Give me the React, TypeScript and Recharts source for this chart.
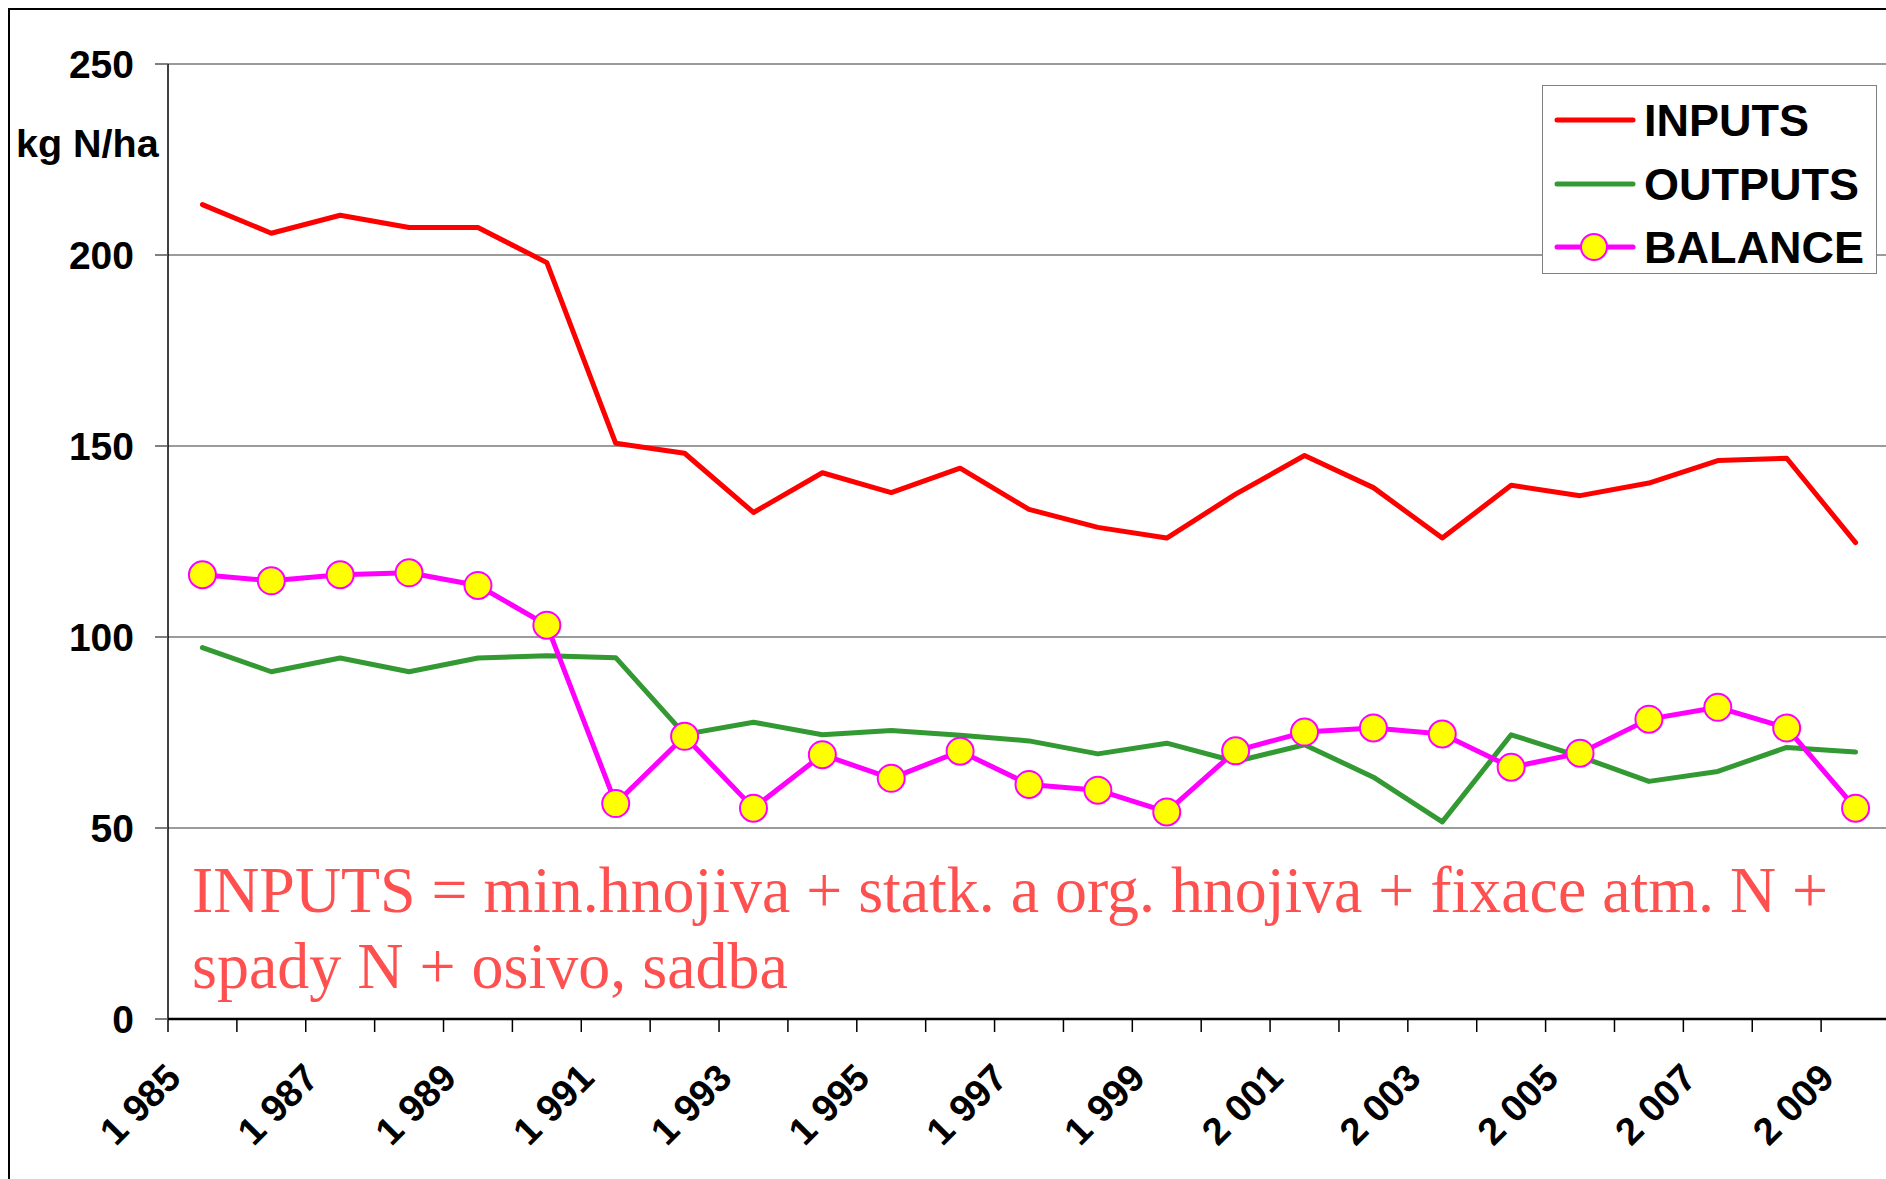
import React from "react";
import {
  LineChart,
  Line,
  XAxis,
  YAxis,
  CartesianGrid,
  Legend,
  Customized,
} from "recharts";

const years = [
  1985, 1986, 1987, 1988, 1989, 1990, 1991, 1992, 1993, 1994, 1995, 1996, 1997,
  1998, 1999, 2000, 2001, 2002, 2003, 2004, 2005, 2006, 2007, 2008, 2009,
];

const inputs = [
  213.2, 205.7, 210.4, 207.2, 207.2, 198.0, 150.7, 148.1, 132.6, 143.0, 137.8,
  144.2, 133.4, 128.7, 125.9, 137.4, 147.5, 139.1, 125.9, 139.7, 137.0, 140.3,
  146.2, 146.8, 124.7,
];

const outputs = [
  97.2, 90.9, 94.5, 90.9, 94.5, 95.1, 94.6, 74.5, 77.7, 74.4, 75.5, 74.3, 72.8,
  69.4, 72.2, 67.4, 71.8, 63.3, 51.6, 74.4, 68.7, 62.2, 64.8, 71.1, 69.9,
];

const balance = [
  116.3, 114.7, 116.3, 116.8, 113.5, 103.1, 56.4, 74.0, 55.2, 69.2, 63.0, 70.1,
  61.4, 59.9, 54.2, 70.2, 75.1, 76.2, 74.6, 65.9, 69.6, 78.5, 81.6, 76.2, 55.2,
];

const xTickLabels = [
  "1 985", "1 987", "1 989", "1 991", "1 993", "1 995", "1 997",
  "1 999", "2 001", "2 003", "2 005", "2 007", "2 009",
];

const yTicks = [0, 50, 100, 150, 200, 250];

const seriesNames = ["INPUTS", "OUTPUTS", "BALANCE"];
const yUnit = "kg N/ha";
const noteLines = [
  "INPUTS = min.hnojiva + statk. a org. hnojiva + fixace atm. N +",
  "spady N + osivo, sadba",
];

const data = years.map((y, i) => ({
  year: y,
  INPUTS: inputs[i],
  OUTPUTS: outputs[i],
  BALANCE: balance[i],
}));

// category boundaries (Excel-style ticks between categories)
const boundaries = [...years.map((y) => y - 0.5), years[years.length - 1] + 0.5];

const SANS = '"Liberation Sans", Arial, Helvetica, sans-serif';
const SERIF = '"Liberation Serif", "Times New Roman", Times, serif';

const COLORS = {
  INPUTS: "#FF0000",
  OUTPUTS: "#339933",
  BALANCE: "#FF00FF",
};

const XTick = (props: any) => {
  const { x, y, payload } = props;
  const startYear = Math.round(payload.value + 0.5);
  const idx = startYear - years[0];
  if (idx < 0 || idx >= years.length || idx % 2 !== 0) return null;
  const label = xTickLabels[idx / 2];
  const ax = x + 15;
  const ay = y + 48;
  return (
    <text
      x={ax}
      y={ay}
      transform={`rotate(-45, ${ax}, ${ay})`}
      textAnchor="end"
      fontFamily={SANS}
      fontWeight="bold"
      fontSize={38}
      fill="#000"
    >
      {label}
    </text>
  );
};

const YTick = (props: any) => {
  const { x, y, payload } = props;
  return (
    <text
      x={x}
      y={y}
      dy="0.36em"
      textAnchor="end"
      fontFamily={SANS}
      fontWeight="bold"
      fontSize={39}
      fill="#000"
    >
      {payload.value}
    </text>
  );
};

const LegendContent = () => {
  const rows = seriesNames;
  return (
    <div
      style={{
        width: 335,
        height: 189,
        boxSizing: "border-box",
        border: "1.5px solid #808080",
        background: "#fff",
        position: "relative",
      }}
    >
      {rows.map((name, i) => {
        const cy = 34 + i * 63.5;
        return (
          <div
            key={name}
            style={{
              position: "absolute",
              left: 0,
              top: cy - 30,
              height: 60,
              width: 335,
            }}
          >
            <svg
              width={100}
              height={60}
              style={{ position: "absolute", left: 0, top: 0 }}
            >
              <line
                x1={14}
                y1={30}
                x2={90}
                y2={30}
                stroke={(COLORS as any)[name]}
                strokeWidth={5}
                strokeLinecap="round"
              />
              {name === "BALANCE" && (
                <circle
                  cx={51}
                  cy={30}
                  r={13}
                  fill="#FFFF00"
                  stroke="#FF00FF"
                  strokeWidth={2}
                />
              )}
            </svg>
            <span
              style={{
                position: "absolute",
                left: 101,
                top: 1,
                lineHeight: "60px",
                fontFamily: SANS,
                fontWeight: "bold",
                fontSize: 45,
                color: "#000",
                whiteSpace: "nowrap",
              }}
            >
              {name}
            </span>
          </div>
        );
      })}
    </div>
  );
};

const Annotations = () => (
  <g>
    <text
      x={16}
      y={157}
      fontFamily={SANS}
      fontWeight="bold"
      fontSize={39.5}
      fill="#000"
    >
      {yUnit}
    </text>
    <text
      x={192}
      y={912}
      fontFamily={SERIF}
      fontSize={65}
      fill="#FF5050"
      textLength={1636}
      lengthAdjust="spacingAndGlyphs"
    >
      {noteLines[0]}
    </text>
    <text
      x={192}
      y={988}
      fontFamily={SERIF}
      fontSize={65}
      fill="#FF5050"
      textLength={596}
      lengthAdjust="spacingAndGlyphs"
    >
      {noteLines[1]}
    </text>
  </g>
);

export default function App() {
  return (
    <div
      style={{
        position: "absolute",
        left: 0,
        top: 0,
        width: 1886,
        height: 1179,
        overflow: "hidden",
        background: "#fff",
      }}
    >
      <div
        style={{
          position: "absolute",
          left: 8,
          top: 8,
          width: 3000,
          height: 3000,
          borderLeft: "2px solid #000",
          borderTop: "2px solid #000",
        }}
      />
      <div style={{ position: "absolute", left: 0, top: 0 }}>
        <LineChart
          width={1900}
          height={1179}
          data={data}
          margin={{ top: 64, right: 10, bottom: 0, left: 0 }}
        >
          <CartesianGrid
            horizontal={true}
            vertical={false}
            stroke="#7a7a7a"
            strokeWidth={1.5}
          />
          <XAxis
            dataKey="year"
            type="number"
            domain={[boundaries[0], boundaries[boundaries.length - 1]]}
            ticks={boundaries}
            interval={0}
            height={160}
            tick={<XTick />}
            tickSize={13}
            tickMargin={0}
            axisLine={{ stroke: "#000", strokeWidth: 2.5 }}
            tickLine={{ stroke: "#000", strokeWidth: 1.5 }}
            allowDataOverflow={true}
          />
          <YAxis
            type="number"
            domain={[0, 250]}
            ticks={yTicks}
            interval={0}
            width={168}
            tick={<YTick />}
            tickSize={13}
            tickMargin={21}
            axisLine={{ stroke: "#000", strokeWidth: 1.5 }}
            tickLine={{ stroke: "#555", strokeWidth: 1.5 }}
          />
          <Legend
            layout="horizontal"
            verticalAlign="middle"
            align="center"
            content={<LegendContent />}
            wrapperStyle={{ left: 1542, top: 85, width: 335, height: 189 }}
          />
          <Line
            type="linear"
            dataKey="INPUTS"
            stroke={COLORS.INPUTS}
            strokeWidth={5}
            strokeLinejoin="round"
            strokeLinecap="round"
            dot={false}
            activeDot={false}
            isAnimationActive={false}
          />
          <Line
            type="linear"
            dataKey="OUTPUTS"
            stroke={COLORS.OUTPUTS}
            strokeWidth={5}
            strokeLinejoin="round"
            strokeLinecap="round"
            dot={false}
            activeDot={false}
            isAnimationActive={false}
          />
          <Line
            type="linear"
            dataKey="BALANCE"
            stroke={COLORS.BALANCE}
            strokeWidth={5}
            strokeLinejoin="round"
            strokeLinecap="round"
            dot={{ r: 13.5, fill: "#FFFF00", stroke: "#FF00FF", strokeWidth: 2 }}
            activeDot={false}
            isAnimationActive={false}
          />
          <Customized component={<Annotations />} />
        </LineChart>
      </div>
    </div>
  );
}
